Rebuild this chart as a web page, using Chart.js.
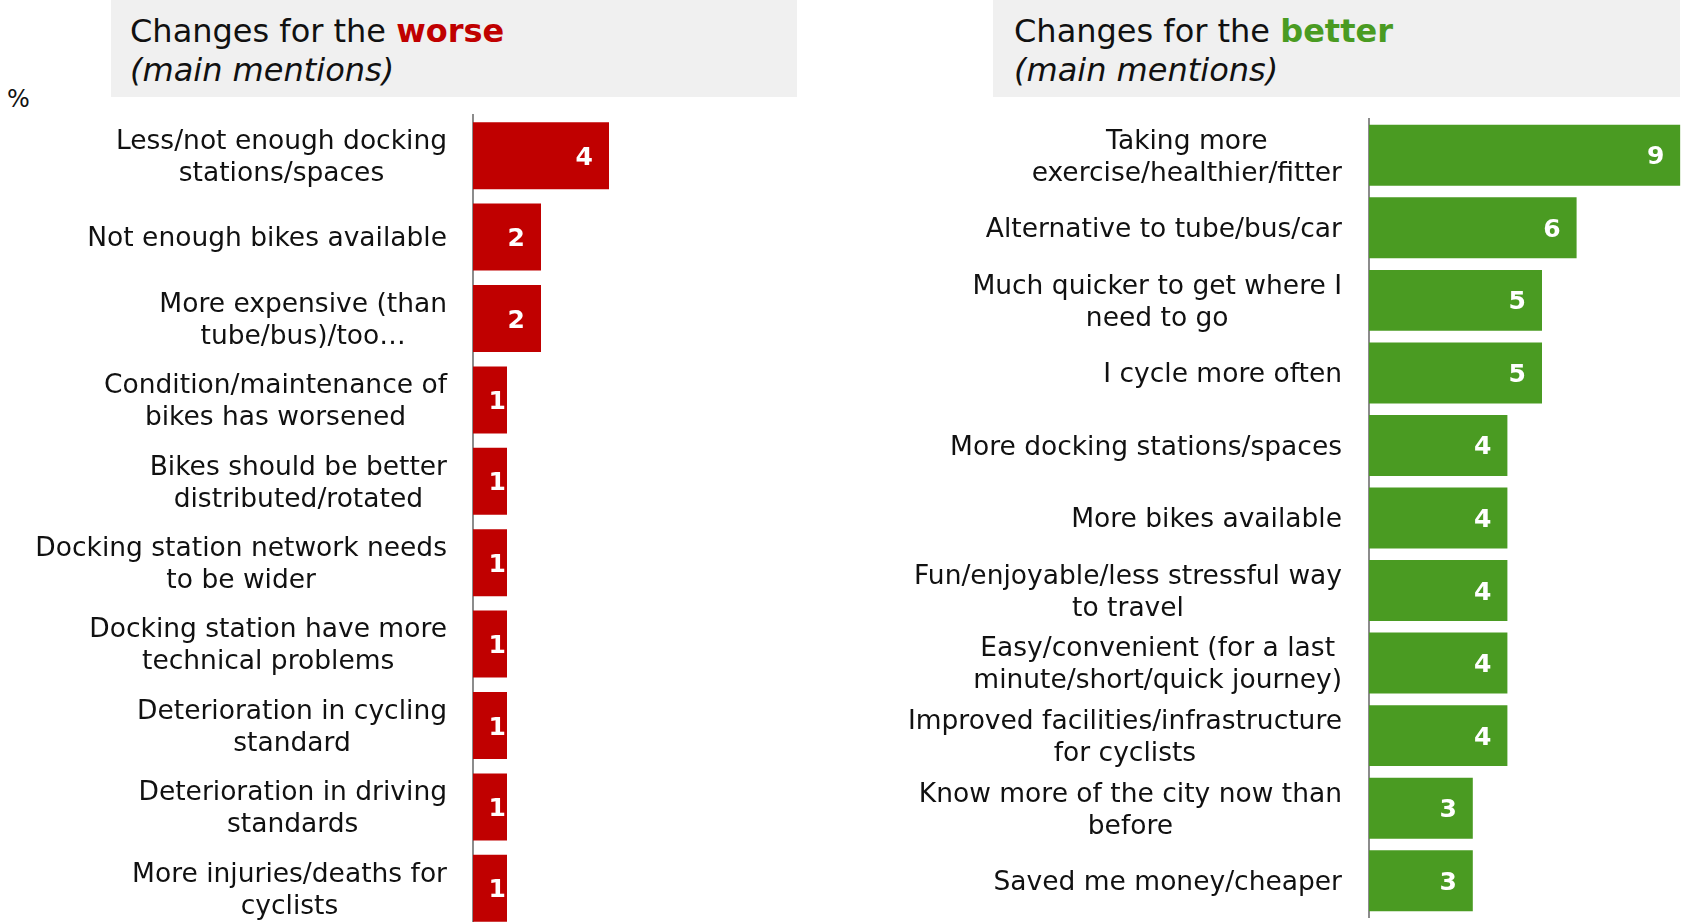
<!DOCTYPE html>
<html>
<head>
<meta charset="utf-8">
<script src="https://cdn.jsdelivr.net/npm/chart.js@4/dist/chart.umd.min.js"></script>
<style>
  html, body { margin: 0; padding: 0; background: #fff; overflow: hidden; }
  body { width: 1689px; height: 922px; position: relative; font-family: "DejaVu Sans", Verdana, sans-serif; }
  .hdr { position: absolute; top: 0; height: 97px; background: #F0F0F0; box-sizing: border-box;
         padding: 12px 0 0 19px; font-size: 32px; line-height: 39px; color: #111; }
  .hdr b { font-weight: bold; }
  .hdr i { font-style: italic; }
  #pct { position: absolute; left: 7px; top: 85px; font-size: 24px; color: #111; }
  .wrap { position: absolute; top: 0; }
</style>
</head>
<body>
<div class="hdr" style="left:111px; width:686px;">Changes for the <b style="color:#C00000">worse</b><br><i>(main mentions)</i></div>
<div class="hdr" style="left:993px; width:687px; padding-left:21px;">Changes for the <b style="color:#4A9B22">better</b><br><i>(main mentions)</i></div>
<div id="pct">%</div>
<div class="wrap" style="left:0; width:830px; height:940px;"><canvas id="worse"></canvas></div>
<div class="wrap" style="left:880px; width:809px; height:922px;"><canvas id="better"></canvas></div>
<script>
// Changes for the worse (% main mentions)
const worseLabels = [
  ["Less/not enough docking", "stations/spaces"],
  ["Not enough bikes available"],
  ["More expensive (than", "tube/bus)/too\u2026"],
  ["Condition/maintenance of", "bikes has worsened"],
  ["Bikes should be better", "distributed/rotated"],
  ["Docking station network needs", "to be wider"],
  ["Docking station have more", "technical problems"],
  ["Deterioration in cycling", "standard"],
  ["Deterioration in driving", "standards"],
  ["More injuries/deaths for", "cyclists"]
];
const worseValues = [4, 2, 2, 1, 1, 1, 1, 1, 1, 1];

// Changes for the better (% main mentions)
const betterLabels = [
  ["Taking more", "exercise/healthier/fitter"],
  ["Alternative to tube/bus/car"],
  ["Much quicker to get where I", "need to go"],
  ["I cycle more often"],
  ["More docking stations/spaces"],
  ["More bikes available"],
  ["Fun/enjoyable/less stressful way", "to travel"],
  ["Easy/convenient (for a last", "minute/short/quick journey)"],
  ["Improved facilities/infrastructure", "for cyclists"],
  ["Know more of the city now than", "before"],
  ["Saved me money/cheaper"]
];
const betterValues = [9, 6, 5, 5, 4, 4, 4, 4, 4, 3, 3];

Chart.defaults.font.family = '"DejaVu Sans", Verdana, sans-serif';
Chart.defaults.animation = false;

// Category labels: centred lines, block right-aligned next to the axis
const categoryText = {
  id: 'categoryText',
  afterDraw(chart, args, opts) {
    const ctx = chart.ctx;
    const y = chart.scales.y;
    const right = chart.chartArea.left - opts.gap;
    ctx.save();
    ctx.font = '26.5px "DejaVu Sans", Verdana, sans-serif';
    ctx.fillStyle = '#111';
    ctx.textAlign = 'center';
    ctx.textBaseline = 'middle';
    opts.lines.forEach((lines, i) => {
      const w = Math.max(...lines.map(l => ctx.measureText(l).width));
      const cx = right - w / 2;
      const cy = y.getPixelForValue(i) + 2.5;
      const lh = 32;
      lines.forEach((l, k) => {
        ctx.fillText(l, cx, cy + (k - (lines.length - 1) / 2) * lh);
      });
    });
    ctx.restore();
  }
};

// Value labels inside the bar ends
const valueText = {
  id: 'valueText',
  afterDatasetsDraw(chart) {
    const ctx = chart.ctx;
    const meta = chart.getDatasetMeta(0);
    const data = chart.data.datasets[0].data;
    ctx.save();
    ctx.font = 'bold 25px "DejaVu Sans", Verdana, sans-serif';
    ctx.fillStyle = '#fff';
    ctx.textAlign = 'right';
    ctx.textBaseline = 'middle';
    meta.data.forEach((bar, i) => {
      const txt = String(data[i]);
      const tw = ctx.measureText(txt).width;
      const len = bar.x - bar.base;
      const pad = (len - tw > 40) ? 16 : 1;
      ctx.fillText(txt, bar.x - pad, bar.y + 2.5);
    });
    ctx.restore();
  }
};

function makeChart(id, labels, values, color, axisLeft, xMax, pad, barPct, gap) {
  return new Chart(document.getElementById(id), {
    type: 'bar',
    data: {
      labels: labels.map(l => l.join(' ')),
      datasets: [{ data: values, backgroundColor: color, borderWidth: 0,
                   categoryPercentage: 1, barPercentage: barPct }]
    },
    options: {
      indexAxis: 'y',
      responsive: true,
      maintainAspectRatio: false,
      layout: { padding: pad },
      plugins: { legend: { display: false }, tooltip: { enabled: false },
                 categoryText: { lines: labels, gap: gap } },
      scales: {
        x: { display: false, min: 0, max: xMax },
        y: {
          grid: { display: false },
          border: { display: true, color: '#8C8C8C', width: 2 },
          ticks: { display: false },
          afterFit(scale) { scale.width = axisLeft; }
        }
      }
    },
    plugins: [categoryText, valueText]
  });
}

makeChart('worse', worseLabels, worseValues, '#C00000', 473, 10,
          { top: 115, bottom: 11, left: 0, right: 17 }, 0.823, 26);
makeChart('better', betterLabels, betterValues, '#4A9B22', 489, 9,
          { top: 119, bottom: 5, left: 0, right: 8.6 }, 0.84, 27);
</script>
</body>
</html>
